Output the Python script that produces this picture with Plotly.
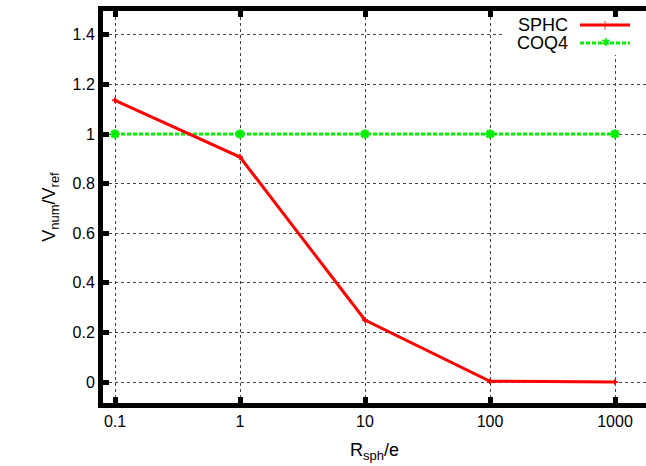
import plotly.graph_objects as go

x_vals = [0.1, 1, 10, 100, 1000]
sphc = [1.136, 0.907, 0.250, 0.003, 0.000]
coq4 = [1.0, 1.0, 1.0, 1.0, 1.0]
x_ticks = [0.1, 1, 10, 100, 1000]
x_ticktext = ["0.1", "1", "10", "100", "1000"]
y_ticks = [0, 0.2, 0.4, 0.6, 0.8, 1.0, 1.2, 1.4]
y_ticktext = ["0", "0.2", "0.4", "0.6", "0.8", "1", "1.2", "1.4"]

FONT = "Liberation Sans, Arial, sans-serif"
RED = "#ff0000"
GREEN = "#00ee00"

fig = go.Figure()
fig.add_trace(go.Scatter(
    x=x_vals, y=coq4, mode="lines+markers", name="COQ4",
    line=dict(color=GREEN, width=3, dash="4px,2px"),
    marker=dict(symbol="asterisk-open", size=8, line=dict(color=GREEN, width=2.5), color=GREEN),
    showlegend=False, cliponaxis=False,
))
fig.add_trace(go.Scatter(
    x=x_vals, y=sphc, mode="lines+markers", name="SPHC",
    line=dict(color=RED, width=3),
    marker=dict(symbol="cross-thin", size=4, line=dict(color=RED, width=2), color=RED),
    showlegend=False, cliponaxis=False,
))

# plot area: x 103..646, y 11..403
PW, PH = 543.0, 392.0
def px(x):
    return (x - 103) / PW
def py(y):
    return (403 - y) / PH

# custom legend (text left of sample, as in the reference)
fig.add_shape(type="rect", xref="paper", yref="paper", x0=px(505), x1=1.0, y0=py(55), y1=py(17),
              fillcolor="white", line=dict(width=0), layer="above")
leg = [("SPHC", RED, "solid", py(25)), ("COQ4", GREEN, "4px,2px", py(43))]
for name, col, dash, yy in leg:
    fig.add_annotation(x=px(570), y=yy, xref="paper", yref="paper", text=name, showarrow=False,
                       xanchor="right", yanchor="middle", font=dict(family=FONT, size=18, color="black"))
    fig.add_shape(type="line", xref="paper", yref="paper", x0=px(580), x1=px(630), y0=yy, y1=yy,
                  line=dict(color=col, width=3, dash=dash), layer="above")
fig.add_annotation(x=px(605), y=leg[0][3], xref="paper", yref="paper", text="|", showarrow=False,
                   font=dict(family=FONT, size=9, color=RED), xanchor="center", yanchor="middle")
fig.add_annotation(x=px(605), y=leg[1][3], xref="paper", yref="paper", text="✱", showarrow=False,
                   font=dict(family="DejaVu Sans", size=11, color=GREEN), xanchor="center", yanchor="middle")

axis_common = dict(
    showline=True, linecolor="black", linewidth=5,
    ticks="inside", ticklen=6, tickwidth=5, tickcolor="black",
    showgrid=True, gridcolor="#444444", gridwidth=1, griddash="dot",
    zeroline=False, tickfont=dict(family=FONT, size=16, color="black"),
    automargin=False,
)

SUB = "<sub><span style='font-size:13px'>{}</span></sub>"

fig.update_xaxes(
    type="log", range=[-1.096, 3.248], tickvals=x_ticks, ticktext=x_ticktext,
    mirror="allticks",
    title=dict(text="R" + SUB.format("sph") + "/e", font=dict(family=FONT, size=18, color="black"), standoff=16),
    **axis_common,
)
fig.update_yaxes(
    range=[-0.0847, 1.496], tickvals=y_ticks, ticktext=y_ticktext, mirror=False,
    title=dict(text="V" + SUB.format("num") + "/V" + SUB.format("ref"),
               font=dict(family=FONT, size=18, color="black"), standoff=14),
    **axis_common,
)

fig.update_layout(
    width=646, height=466,
    margin=dict(l=103, r=0, t=11, b=63),
    paper_bgcolor="white", plot_bgcolor="white",
    font=dict(family=FONT, size=16, color="black"),
    showlegend=False,
)

fig.write_html("out.html", config={"displayModeBar": False},
               post_script="document.body.style.margin='0';document.body.style.overflow='hidden';")
